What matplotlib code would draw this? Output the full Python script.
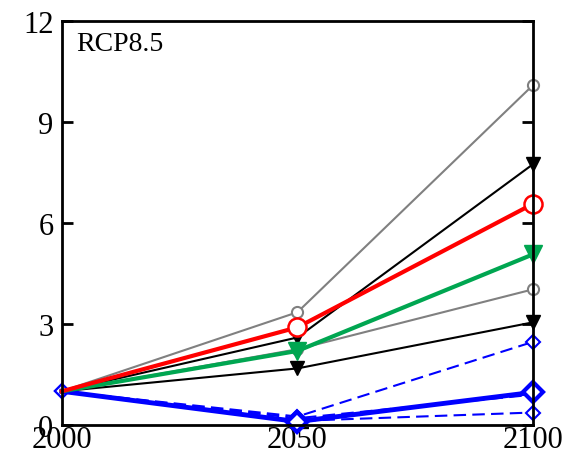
import matplotlib
matplotlib.use('Agg')
from matplotlib import pyplot as plt

plt.rcParams['font.family'] = ['Liberation Serif', 'DejaVu Serif']

years = [2000, 2050, 2100]

gray_high = [1.0, 3.35, 10.1]
black_high = [1.0, 2.6, 7.75]
red_mean = [1.0, 2.9, 6.57]
green_mean = [1.0, 2.2, 5.07]
gray_low = [1.0, 2.25, 4.03]
black_low = [1.0, 1.68, 3.05]
blue_dash_high = [1.0, 0.25, 2.47]
blue_mean = [1.0, 0.1, 0.97]
blue_dash_mid = [1.0, 0.2, 0.9]
blue_dash_low = [1.0, 0.12, 0.37]

fig = plt.figure(figsize=(5.72, 4.6), dpi=100)
ax = fig.add_axes([0.108, 0.074, 0.824, 0.878])

later = [1, 2]
ax.plot(years, gray_high, color='gray', lw=1.5, marker='o', ms=8,
        mfc='white', mec='gray', mew=1.5, markevery=later, clip_on=False)
ax.plot(years, gray_low, color='gray', lw=1.5, marker='o', ms=8,
        mfc='white', mec='gray', mew=1.5, markevery=later, clip_on=False)
ax.plot(years, black_high, color='black', lw=1.5, marker='v', ms=10,
        markevery=later, clip_on=False)
ax.plot(years, black_low, color='black', lw=1.5, marker='v', ms=10,
        markevery=later, clip_on=False)
for vals in (blue_dash_high, blue_dash_mid, blue_dash_low):
    ax.plot(years, vals, color='blue', lw=1.5, ls=(0, (6, 3)), marker='D',
            ms=7, mfc='white', mec='blue', mew=1.5, clip_on=False)
ax.plot(years, blue_mean, color='blue', lw=3.5, marker='D', ms=10,
        mfc='white', mec='blue', mew=3, markevery=later, clip_on=False)
ax.plot(years, green_mean, color='#00a651', lw=3, marker='v', ms=13,
        markevery=later, clip_on=False)
ax.plot(years, red_mean, color='red', lw=3, marker='o', ms=13,
        mfc='white', mec='red', mew=1.8, markevery=later, clip_on=False)

ax.set_xlim(2000, 2100)
ax.set_ylim(0, 12)
ax.set_xticks([2000, 2050, 2100])
ax.set_yticks([0, 3, 6, 9, 12])
ax.tick_params(direction='in', length=8, width=2, labelsize=22,
               right=True, top=False, bottom=False)
ax.tick_params(axis='y', pad=6)
ax.tick_params(axis='x', pad=0)
for s in ax.spines.values():
    s.set_linewidth(2)

ax.text(0.03, 0.975, 'RCP8.5', transform=ax.transAxes, fontsize=20,
        va='top', ha='left')

fig.savefig('out.png', dpi=100)
